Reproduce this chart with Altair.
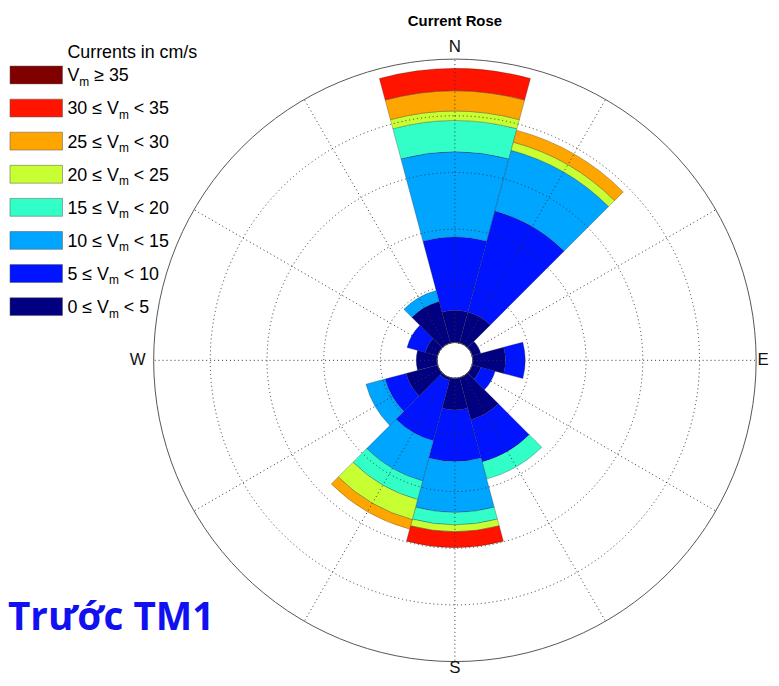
import math
import altair as alt
import pandas as pd

# ---------------- data ----------------
directions = [0, 30, 60, 90, 120, 150, 180, 210, 240, 270, 300, 330]
class_names = ["0 ≤ Vm < 5", "5 ≤ Vm < 10", "10 ≤ Vm < 15", "15 ≤ Vm < 20",
               "20 ≤ Vm < 25", "25 ≤ Vm < 30", "30 ≤ Vm < 35", "Vm ≥ 35"]
class_colors = ["#000080", "#0014FF", "#00A5FF", "#32FFC8",
                "#C8FF32", "#FFA500", "#FF1400", "#800000"]

# frequency (%) of each speed class per direction
freq_0_5   = [2.84, 2.85, 0.79, 2.88, 0.79, 3.85, 2.80, 0.26, 2.88, 1.84, 1.14, 3.80]
freq_5_10  = [6.47, 9.21, 0.00, 1.75, 1.31, 3.85, 4.54, 5.51, 1.92, 0.00, 1.66, 0.00]
freq_10_15 = [7.52, 5.55, 0.00, 0.00, 0.00, 0.00, 4.50, 3.67, 1.75, 0.00, 0.00, 1.00]
freq_15_20 = [2.75, 0.00, 0.00, 0.00, 0.00, 1.57, 1.09, 1.70, 0.00, 0.00, 0.00, 0.00]
freq_20_25 = [0.83, 0.74, 0.00, 0.00, 0.00, 0.00, 0.61, 1.84, 0.00, 0.00, 0.00, 0.00]
freq_25_30 = [1.79, 1.09, 0.00, 0.00, 0.00, 0.00, 0.00, 0.87, 0.00, 0.00, 0.00, 0.00]
freq_30_35 = [1.97, 0.00, 0.00, 0.00, 0.00, 0.00, 1.40, 0.00, 0.00, 0.00, 0.00, 0.00]
freq_35_up = [0.00] * 12
class_freqs = [freq_0_5, freq_5_10, freq_10_15, freq_15_20,
               freq_20_25, freq_25_30, freq_30_35, freq_35_up]

ring_values = [5, 10, 15, 20]
outer_value = 25
dir_labels = ["N", "E", "S", "W"]
dir_label_angles = [0, 90, 180, 270]

legend_title = "Currents in cm/s"
legend_pre = ["V", "30 ≤ V", "25 ≤ V", "20 ≤ V", "15 ≤ V", "10 ≤ V", "5 ≤ V", "0 ≤ V"]
legend_suf = ["≥ 35", "< 35", "< 30", "< 25", "< 20", "< 15", "< 10", "< 5"]
legend_classes = class_names[::-1]

title_text = "Current Rose"
note_text = "Trước TM1"

# ---------------- layout ----------------
W, H = 770, 670
CX, CY = 451, 352.5
HOLE, R_OUT = 18, 304
HALF = 15
FONT = "Liberation Sans, Arial, sans-serif"

# build segment table
rows = []
for i, d in enumerate(directions):
    cum = 0.0
    for k, name in enumerate(class_names):
        v = class_freqs[k][i]
        if v > 0:
            rows.append({"dir": d, "cls": name, "t0": d - HALF, "t1": d + HALF,
                         "r0": cum, "r1": cum + v})
        cum += v
seg = pd.DataFrame(rows)

rscale = alt.Scale(type="linear", domain=[0, outer_value], range=[HOLE, R_OUT], zero=False)
tscale = alt.Scale(type="linear", domain=[0, 360], range=[0, 2 * math.pi], zero=False)
cscale = alt.Scale(domain=class_names, range=class_colors)

arcs = alt.Chart(seg).mark_arc(stroke="#222222", strokeWidth=0.4, strokeOpacity=0.7).encode(
    theta=alt.Theta("t0:Q", scale=tscale, stack=False),
    theta2="t1:Q",
    radius=alt.Radius("r1:Q", scale=rscale, stack=False),
    radius2="r0:Q",
    color=alt.Color("cls:N", scale=cscale, legend=None),
    x=alt.value(CX), y=alt.value(CY),
)

rings = alt.Chart(pd.DataFrame({"v": ring_values})).mark_arc(
    filled=False, fillOpacity=0, stroke="#333333", strokeWidth=1, strokeDash=[1, 3]
).encode(
    radius=alt.Radius("v:Q", scale=rscale, stack=False),
    theta=alt.value(0), theta2=alt.value(2 * math.pi),
    x=alt.value(CX), y=alt.value(CY),
)

outer = alt.Chart(pd.DataFrame({"v": [outer_value]})).mark_arc(
    filled=False, fillOpacity=0, stroke="#555555", strokeWidth=1
).encode(
    radius=alt.Radius("v:Q", scale=rscale, stack=False),
    theta=alt.value(0), theta2=alt.value(2 * math.pi),
    x=alt.value(CX), y=alt.value(CY),
)

spokes = alt.Chart(pd.DataFrame({"a": directions})).transform_calculate(
    sx=f"{CX} + {HOLE}*sin(datum.a*PI/180)",
    sy=f"{CY} - {HOLE}*cos(datum.a*PI/180)",
    ex=f"{CX} + {R_OUT}*sin(datum.a*PI/180)",
    ey=f"{CY} - {R_OUT}*cos(datum.a*PI/180)",
).mark_rule(color="#333333", strokeWidth=1, strokeDash=[1, 3]).encode(
    x=alt.X("sx:Q", scale=None, axis=None),
    y=alt.Y("sy:Q", scale=None, axis=None),
    x2="ex:Q", y2="ey:Q",
)

label_r = {"N": 316, "E": 311, "S": 311, "W": 320}
lab_df = pd.DataFrame({"lab": dir_labels, "a": dir_label_angles})
lab_df["rr"] = lab_df["lab"].map(label_r)
labels = alt.Chart(lab_df).transform_calculate(
    px=f"{CX} + datum.rr*sin(datum.a*PI/180)",
    py=f"{CY} - datum.rr*cos(datum.a*PI/180)",
).mark_text(font=FONT, fontSize=17, color="#111111", align="center", baseline="middle").encode(
    x=alt.X("px:Q", scale=None, axis=None),
    y=alt.Y("py:Q", scale=None, axis=None),
    text="lab:N",
)

title = alt.Chart(pd.DataFrame({"t": [title_text]})).mark_text(
    font=FONT, fontSize=15, fontWeight="bold", color="#000000", align="center", baseline="alphabetic"
).encode(x=alt.value(CX), y=alt.value(15), text="t:N")

# ---------------- legend ----------------
arial = {"0": 556, "1": 556, "2": 556, "3": 556, "4": 556, "5": 556, "6": 556, "7": 556,
         "8": 556, "9": 556, " ": 278, "≤": 549, "≥": 549, "<": 584, "V": 667, "m": 833}
def text_w(s, size):
    return sum(arial.get(c, 556) for c in s) * size / 1000.0

LFS, SFS = 18, 12
LX_SW0, LX_SW1, LX_TXT = 2, 55, 60
ROW0, ROWSTEP, SWH = 64.5, 33.4, 18

leg = pd.DataFrame({"cls": legend_classes, "pre": legend_pre, "suf": legend_suf})
leg["i"] = range(len(leg))
leg["yc"] = ROW0 + ROWSTEP * leg["i"]
leg["y0"] = leg["yc"] - SWH / 2
leg["y1"] = leg["yc"] + SWH / 2
leg["yb"] = leg["yc"] + 6.5
leg["ys"] = leg["yb"] + 4.5
leg["xp"] = LX_TXT
leg["xm"] = LX_TXT + leg["pre"].apply(lambda s: text_w(s, LFS))
leg["xs"] = leg["xm"] + text_w("m", SFS) + text_w(" ", LFS)
leg["m"] = "m"

base_leg = alt.Chart(leg)
swatches = base_leg.mark_rect(stroke="#555555", strokeWidth=0.5).encode(
    x=alt.value(LX_SW0), x2=alt.value(LX_SW1),
    y=alt.Y("y0:Q", scale=None, axis=None), y2="y1:Q",
    color=alt.Color("cls:N", scale=cscale, legend=None),
)
tpre = base_leg.mark_text(font=FONT, fontSize=LFS, align="left", baseline="alphabetic", color="#000000").encode(
    x=alt.X("xp:Q", scale=None, axis=None), y=alt.Y("yb:Q", scale=None, axis=None), text="pre:N")
tsub = base_leg.mark_text(font=FONT, fontSize=SFS, align="left", baseline="alphabetic", color="#000000").encode(
    x=alt.X("xm:Q", scale=None, axis=None), y=alt.Y("ys:Q", scale=None, axis=None), text="m:N")
tsuf = base_leg.mark_text(font=FONT, fontSize=LFS, align="left", baseline="alphabetic", color="#000000").encode(
    x=alt.X("xs:Q", scale=None, axis=None), y=alt.Y("yb:Q", scale=None, axis=None), text="suf:N")

ltitle = alt.Chart(pd.DataFrame({"t": [legend_title]})).mark_text(
    font=FONT, fontSize=LFS, align="left", baseline="alphabetic", color="#000000"
).encode(x=alt.value(LX_TXT), y=alt.value(47), text="t:N")

note = alt.Chart(pd.DataFrame({"t": [note_text]})).mark_text(
    font="Open Sans", fontSize=39, fontWeight="bold", color="#1010F0", align="left", baseline="alphabetic"
).encode(x=alt.value(0), y=alt.value(625), text="t:N")

chart = alt.layer(
    arcs, rings, spokes, outer, labels, title, ltitle, swatches, tpre, tsub, tsuf, note
).properties(
    width=W, height=H, padding=0, autosize=alt.AutoSizeParams(type="none"), background="white"
).configure_view(strokeWidth=0)

chart.save("out.html", embed_options={"renderer": "svg", "actions": False})
